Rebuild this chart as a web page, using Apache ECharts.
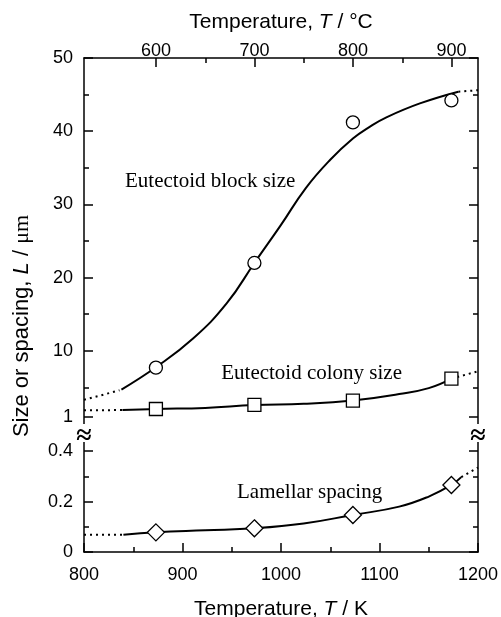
<!DOCTYPE html>
<html>
<head>
<meta charset="utf-8">
<script src="https://cdn.jsdelivr.net/npm/echarts@6/dist/echarts.min.js"></script>
<style>
html,body{margin:0;padding:0;background:#fff;}
#chart{width:501px;height:617px;}
</style>
</head>
<body>
<div id="chart"></div>
<script>
// ---- data ----
const markerTempK = [873, 973, 1073, 1173];
const blockSizeMarkers = [7.7, 22.0, 41.2, 44.2];
const colonySizeMarkers = [2.05, 2.6, 3.2, 6.2];
const lamellarMarkers = [0.078, 0.094, 0.147, 0.266];

const blockCurveT = [838, 873, 911, 945, 973, 1000, 1025, 1050, 1073, 1090, 1107, 1141, 1180];
const blockCurveL = [4.7, 7.75, 11.7, 16.5, 22.0, 27.2, 32.2, 36.1, 39.0, 40.6, 41.9, 43.8, 45.4];
const blockDotLeftT = [800, 836];
const blockDotLeftL = [3.3, 4.6];
const blockDotRightT = [1180, 1200];
const blockDotRightL = [45.4, 45.6];

const colonyCurveT = [839, 873, 923, 973, 1023, 1073, 1120, 1150, 1173];
const colonyCurveL = [1.9, 2.05, 2.2, 2.6, 2.75, 3.2, 4.1, 4.9, 6.2];
const colonyDotLeftT = [800, 839];
const colonyDotLeftL = [1.88, 1.9];
const colonyDotRightT = [1173, 1200];
const colonyDotRightL = [6.2, 7.2];

const lamellarCurveT = [840, 873, 923, 973, 1023, 1073, 1120, 1150, 1173, 1183];
const lamellarCurveL = [0.068, 0.078, 0.086, 0.094, 0.113, 0.147, 0.18, 0.22, 0.266, 0.297];
const lamellarDotLeftT = [800, 840];
const lamellarDotLeftL = [0.068, 0.068];
const lamellarDotRightT = [1183, 1200];
const lamellarDotRightL = [0.297, 0.335];

const upperMajorTicks = [1, 10, 20, 30, 40, 50];
const upperMinorTicks = [5, 15, 25, 35, 45];
const lowerMajorTicks = [0, 0.2, 0.4];
const lowerMinorTicks = [0.1, 0.3];
const celsiusMajorTicks = [600, 700, 800, 900];
const celsiusMinorTicks = [650, 750, 850];

const labels = {
  block: 'Eutectoid block size',
  colony: 'Eutectoid colony size',
  lamellar: 'Lamellar spacing'
};

// ---- helpers ----
const zip = (a, b) => a.map((v, i) => [v, b[i]]);
const SANS = 'Liberation Sans, Arial, sans-serif';
const SERIF = 'Liberation Serif, Times New Roman, serif';
const black = '#000';

function yAx(grid, pos, min, max, ticks, len, labelVals, showLine) {
  return {
    type: 'value', gridIndex: grid, position: pos, min: min, max: max,
    axisLine: { show: showLine, onZero: false, lineStyle: { color: black, width: 1.5 } },
    axisTick: { show: true, inside: true, length: len, customValues: ticks, lineStyle: { color: black, width: 1.5 } },
    axisLabel: labelVals ? { show: true, customValues: labelVals, color: black, fontFamily: SANS, fontSize: 18, margin: 11 } : { show: false },
    splitLine: { show: false }
  };
}

function lineSeries(xi, yi, data, dotted) {
  return {
    type: 'line', xAxisIndex: xi, yAxisIndex: yi, data: data,
    smooth: !dotted ? 0.45 : false, showSymbol: false, silent: true, z: 2,
    lineStyle: { color: black, width: 2, type: dotted ? [2, 4] : 'solid', cap: 'butt' }
  };
}

function markerSeries(xi, yi, data, symbol, size) {
  return {
    type: 'scatter', xAxisIndex: xi, yAxisIndex: yi, data: data,
    symbol: symbol, symbolSize: size, silent: true, z: 5,
    itemStyle: { color: '#fff', borderColor: black, borderWidth: 1.3, opacity: 1 }
  };
}

const titleRich = {
  n: { fontFamily: SANS, fontSize: 21, color: black },
  i: { fontFamily: SANS, fontSize: 21, color: black, fontStyle: 'italic' }
};

const chart = echarts.init(document.getElementById('chart'), null, { renderer: 'canvas' });

const option = {
  animation: false,
  backgroundColor: '#fff',
  grid: [
    { left: 84, width: 394, top: 58, height: 366, outerBoundsMode: 'none', containLabel: false },
    { left: 84, width: 394, top: 426, height: 126, outerBoundsMode: 'none', containLabel: false },
    { left: 84, width: 394, top: 58, height: 366, outerBoundsMode: 'none', containLabel: false }
  ],
  xAxis: [
    { type: 'value', gridIndex: 0, position: 'bottom', min: 800, max: 1200, show: false },
    {
      type: 'value', gridIndex: 0, position: 'top', min: 800 - 273.15, max: 1200 - 273.15,
      axisLine: { show: true, onZero: false, lineStyle: { color: black, width: 1.5 } },
      axisTick: { show: true, inside: true, length: 9, customValues: celsiusMajorTicks, lineStyle: { color: black, width: 1.5 } },
      axisLabel: { show: true, customValues: celsiusMajorTicks, color: black, fontFamily: SANS, fontSize: 18, margin: -2 },
      splitLine: { show: false },
      name: '{n|Temperature, }{i|T}{n| / °C}', nameLocation: 'middle', nameGap: 25,
      nameTextStyle: { rich: titleRich }
    },
    {
      type: 'value', gridIndex: 2, position: 'top', min: 800 - 273.15, max: 1200 - 273.15,
      axisLine: { show: false, onZero: false },
      axisTick: { show: true, inside: true, length: 5, customValues: celsiusMinorTicks, lineStyle: { color: black, width: 1.5 } },
      axisLabel: { show: false }, splitLine: { show: false }
    },
    {
      type: 'value', gridIndex: 1, position: 'bottom', min: 800, max: 1200, interval: 100,
      axisLine: { show: true, onZero: false, lineStyle: { color: black, width: 1.5 } },
      axisTick: { show: true, inside: true, length: 9, lineStyle: { color: black, width: 1.5 } },
      minorTick: { show: true, splitNumber: 2, length: 5, lineStyle: { color: black, width: 1.5 } },
      axisLabel: { show: true, color: black, fontFamily: SANS, fontSize: 18, margin: 14, formatter: v => String(v) },
      splitLine: { show: false }, minorSplitLine: { show: false },
      name: '{n|Temperature, }{i|T}{n| / K}', nameLocation: 'middle', nameGap: 47,
      nameTextStyle: { rich: titleRich }
    }
  ],
  yAxis: [
    yAx(0, 'left', 0, 50, upperMajorTicks, 9, upperMajorTicks, true),
    yAx(0, 'left', 0, 50, upperMinorTicks, 5, null, false),
    yAx(0, 'right', 0, 50, upperMajorTicks, 9, null, true),
    yAx(0, 'right', 0, 50, upperMinorTicks, 5, null, false),
    yAx(1, 'left', 0, 0.5, lowerMajorTicks, 9, lowerMajorTicks, true),
    yAx(1, 'left', 0, 0.5, lowerMinorTicks, 5, null, false),
    yAx(1, 'right', 0, 0.5, lowerMajorTicks, 9, null, true),
    yAx(1, 'right', 0, 0.5, lowerMinorTicks, 5, null, false),
    { type: 'value', gridIndex: 2, min: 0, max: 50, show: false }
  ],
  series: [
    lineSeries(0, 0, zip(blockCurveT, blockCurveL), false),
    lineSeries(0, 0, zip(blockDotLeftT, blockDotLeftL), true),
    lineSeries(0, 0, zip(blockDotRightT, blockDotRightL), true),
    lineSeries(0, 0, zip(colonyCurveT, colonyCurveL), false),
    lineSeries(0, 0, zip(colonyDotLeftT, colonyDotLeftL), true),
    lineSeries(0, 0, zip(colonyDotRightT, colonyDotRightL), true),
    lineSeries(3, 4, zip(lamellarCurveT, lamellarCurveL), false),
    lineSeries(3, 4, zip(lamellarDotLeftT, lamellarDotLeftL), true),
    lineSeries(3, 4, zip(lamellarDotRightT, lamellarDotRightL), true),
    markerSeries(0, 0, zip(markerTempK, blockSizeMarkers), 'circle', 13),
    markerSeries(0, 0, zip(markerTempK, colonySizeMarkers), 'rect', 13),
    markerSeries(3, 4, zip(markerTempK, lamellarMarkers), 'diamond', 17)
  ],
  graphic: [
    { type: 'text', x: 125, y: 181, z: 10, style: { text: labels.block, font: '21px ' + SERIF, fill: black, align: 'left', verticalAlign: 'middle' } },
    { type: 'text', x: 402, y: 373, z: 10, style: { text: labels.colony, font: '21px ' + SERIF, fill: black, align: 'right', verticalAlign: 'middle' } },
    { type: 'text', x: 237, y: 492, z: 10, style: { text: labels.lamellar, font: '21px ' + SERIF, fill: black, align: 'left', verticalAlign: 'middle' } },
    { type: 'rect', shape: { x: 80, y: 424, width: 9, height: 18 }, style: { fill: '#fff' }, z: 20 },
    { type: 'rect', shape: { x: 474, y: 424, width: 9, height: 18 }, style: { fill: '#fff' }, z: 20 },
    { type: 'text', x: 84, y: 437, z: 21, style: { text: '≈', font: 'bold 28px ' + SERIF, fill: black, align: 'center', verticalAlign: 'middle' } },
    { type: 'text', x: 478, y: 437, z: 21, style: { text: '≈', font: 'bold 28px ' + SERIF, fill: black, align: 'center', verticalAlign: 'middle' } },
    {
      type: 'text', x: 22, y: 326, rotation: Math.PI / 2, z: 10,
      style: {
        text: '{n|Size or spacing, }{i|L}{n| / }{m|μm}',
        align: 'center', verticalAlign: 'middle',
        rich: {
          n: { fontFamily: SANS, fontSize: 22, fill: black },
          i: { fontFamily: SANS, fontSize: 22, fill: black, fontStyle: 'italic' },
          m: { fontFamily: SERIF, fontSize: 22, fill: black }
        }
      }
    }
  ]
};

chart.setOption(option);
</script>
</body>
</html>
